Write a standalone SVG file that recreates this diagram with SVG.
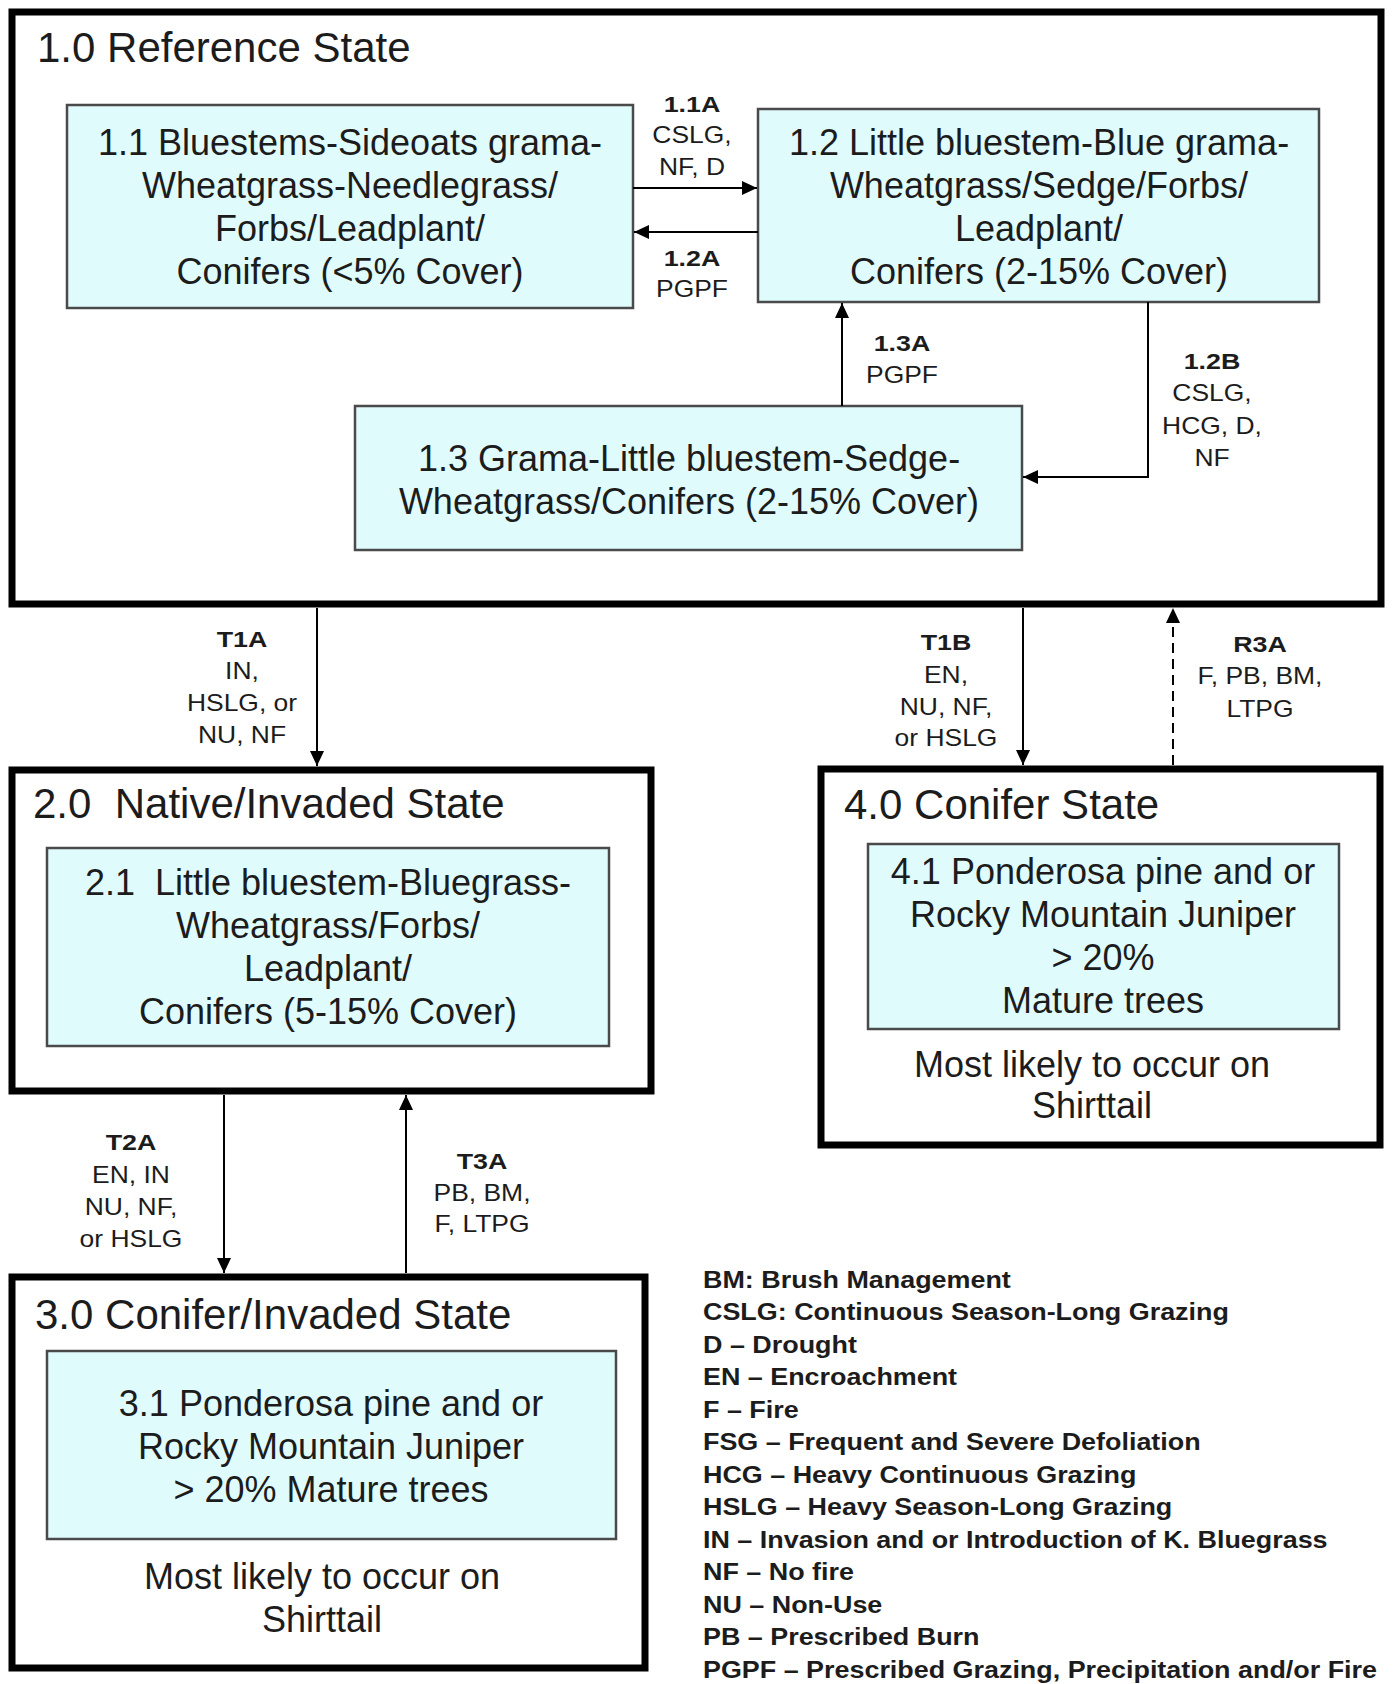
<svg xmlns="http://www.w3.org/2000/svg" width="1393" height="1684" viewBox="0 0 1393 1684">
<style>
text{font-family:"Liberation Sans",Arial,sans-serif;fill:#1c1c1c}
.state{fill:#fff;stroke:#000;stroke-width:7}
.comm{fill:#e0fbfc;stroke:#4a4a4a;stroke-width:2.5}
.title{font-size:42px}
.ct{font-size:36px;text-anchor:middle}
.lb{font-size:22px;font-weight:bold;text-anchor:middle}
.lr{font-size:23px;text-anchor:middle}
.leg{font-size:23px;font-weight:bold}
.con{fill:none;stroke:#000;stroke-width:2}
.dash{stroke-dasharray:10 6}
</style>
<defs>
<marker id="ah" markerUnits="userSpaceOnUse" markerWidth="16" markerHeight="14" refX="15" refY="7" orient="auto">
<path d="M0,0 L15,7 L0,14 z" fill="#000"/>
</marker>
</defs>
<rect width="1393" height="1684" fill="#fff"/>

<g id="state1">
<rect class="state" x="12" y="12" width="1369" height="592"/>
<text class="title" x="37" y="62">1.0 Reference State</text>
</g>
<g id="comm11">
<rect class="comm" x="67" y="105" width="566" height="203"/>
<text class="ct"><tspan x="350" y="155">1.1 Bluestems-Sideoats grama-</tspan><tspan x="350" y="198">Wheatgrass-Needlegrass/</tspan><tspan x="350" y="241">Forbs/Leadplant/</tspan><tspan x="350" y="284">Conifers (&lt;5% Cover)</tspan></text>
</g>
<g id="comm12">
<rect class="comm" x="758" y="109" width="561" height="193"/>
<text class="ct"><tspan x="1039" y="155">1.2 Little bluestem-Blue grama-</tspan><tspan x="1039" y="198">Wheatgrass/Sedge/Forbs/</tspan><tspan x="1039" y="241">Leadplant/</tspan><tspan x="1039" y="284">Conifers (2-15% Cover)</tspan></text>
</g>
<g id="comm13">
<rect class="comm" x="355" y="406" width="667" height="144"/>
<text class="ct"><tspan x="689" y="471">1.3 Grama-Little bluestem-Sedge-</tspan><tspan x="689" y="514">Wheatgrass/Conifers (2-15% Cover)</tspan></text>
</g>

<g id="state2">
<rect class="state" x="12" y="770" width="639" height="321"/>
<text class="title" x="33" y="818">2.0&#160; Native/Invaded State</text>
</g>
<g id="comm21">
<rect class="comm" x="47" y="848" width="562" height="198"/>
<text class="ct"><tspan x="328" y="895">2.1&#160; Little bluestem-Bluegrass-</tspan><tspan x="328" y="938">Wheatgrass/Forbs/</tspan><tspan x="328" y="981">Leadplant/</tspan><tspan x="328" y="1024">Conifers (5-15% Cover)</tspan></text>
</g>

<g id="state3">
<rect class="state" x="12" y="1277" width="633" height="391"/>
<text class="title" x="35" y="1329">3.0 Conifer/Invaded State</text>
<text class="ct"><tspan x="322" y="1589">Most likely to occur on</tspan><tspan x="322" y="1632">Shirttail</tspan></text>
</g>
<g id="comm31">
<rect class="comm" x="47" y="1351" width="569" height="188"/>
<text class="ct"><tspan x="331" y="1416">3.1 Ponderosa pine and or</tspan><tspan x="331" y="1459">Rocky Mountain Juniper</tspan><tspan x="331" y="1502">&gt; 20% Mature trees</tspan></text>
</g>

<g id="state4">
<rect class="state" x="821" y="769" width="559" height="376"/>
<text class="title" x="844" y="819">4.0 Conifer State</text>
<text class="ct"><tspan x="1092" y="1077">Most likely to occur on</tspan><tspan x="1092" y="1118">Shirttail</tspan></text>
</g>
<g id="comm41">
<rect class="comm" x="868" y="844" width="471" height="185"/>
<text class="ct"><tspan x="1103" y="884">4.1 Ponderosa pine and or</tspan><tspan x="1103" y="927">Rocky Mountain Juniper</tspan><tspan x="1103" y="970">&gt; 20%</tspan><tspan x="1103" y="1013">Mature trees</tspan></text>
</g>

<g id="connectors">
<path class="con" d="M633,188 H757" marker-end="url(#ah)"/>
<path class="con" d="M758,232 H634" marker-end="url(#ah)"/>
<path class="con" d="M842,406 V303" marker-end="url(#ah)"/>
<path class="con" d="M1148,302 V477 H1023" marker-end="url(#ah)"/>
<path class="con" d="M317,608 V766" marker-end="url(#ah)"/>
<path class="con" d="M1023,608 V765" marker-end="url(#ah)"/>
<path class="con dash" d="M1173,765 V608" marker-end="url(#ah)"/>
<path class="con" d="M224,1095 V1273" marker-end="url(#ah)"/>
<path class="con" d="M406,1273 V1095" marker-end="url(#ah)"/>
</g>

<g id="labels">
<g transform="translate(692 0)"><text class="lb" transform="scale(1.22 1)" y="112">1.1A</text><text class="lr" transform="scale(1.15 1)"><tspan x="0" y="143">CSLG,</tspan><tspan x="0" y="175">NF, D</tspan></text></g>
<g transform="translate(692 0)"><text class="lb" transform="scale(1.22 1)" y="266">1.2A</text><text class="lr" transform="scale(1.15 1)"><tspan x="0" y="297">PGPF</tspan></text></g>
<g transform="translate(902 0)"><text class="lb" transform="scale(1.22 1)" y="351">1.3A</text><text class="lr" transform="scale(1.15 1)"><tspan x="0" y="383">PGPF</tspan></text></g>
<g transform="translate(1212 0)"><text class="lb" transform="scale(1.22 1)" y="369">1.2B</text><text class="lr" transform="scale(1.15 1)"><tspan x="0" y="401">CSLG,</tspan><tspan x="0" y="434">HCG, D,</tspan><tspan x="0" y="466">NF</tspan></text></g>
<g transform="translate(242 0)"><text class="lb" transform="scale(1.22 1)" y="647">T1A</text><text class="lr" transform="scale(1.15 1)"><tspan x="0" y="679">IN,</tspan><tspan x="0" y="711">HSLG, or</tspan><tspan x="0" y="743">NU, NF</tspan></text></g>
<g transform="translate(946 0)"><text class="lb" transform="scale(1.22 1)" y="650">T1B</text><text class="lr" transform="scale(1.15 1)"><tspan x="0" y="683">EN,</tspan><tspan x="0" y="715">NU, NF,</tspan><tspan x="0" y="746">or HSLG</tspan></text></g>
<g transform="translate(1260 0)"><text class="lb" transform="scale(1.22 1)" y="652">R3A</text><text class="lr" transform="scale(1.15 1)"><tspan x="0" y="684">F, PB, BM,</tspan><tspan x="0" y="717">LTPG</tspan></text></g>
<g transform="translate(131 0)"><text class="lb" transform="scale(1.22 1)" y="1150">T2A</text><text class="lr" transform="scale(1.15 1)"><tspan x="0" y="1183">EN, IN</tspan><tspan x="0" y="1215">NU, NF,</tspan><tspan x="0" y="1247">or HSLG</tspan></text></g>
<g transform="translate(482 0)"><text class="lb" transform="scale(1.22 1)" y="1169">T3A</text><text class="lr" transform="scale(1.15 1)"><tspan x="0" y="1201">PB, BM,</tspan><tspan x="0" y="1232">F, LTPG</tspan></text></g>
</g>

<g id="legend" transform="translate(703 0) scale(1.17 1)">
<text class="leg"><tspan x="0" y="1288">BM: Brush Management</tspan><tspan x="0" y="1320.5">CSLG: Continuous Season-Long Grazing</tspan><tspan x="0" y="1353">D – Drought</tspan><tspan x="0" y="1385.5">EN – Encroachment</tspan><tspan x="0" y="1418">F – Fire</tspan><tspan x="0" y="1450.5">FSG – Frequent and Severe Defoliation</tspan><tspan x="0" y="1483">HCG – Heavy Continuous Grazing</tspan><tspan x="0" y="1515.5">HSLG – Heavy Season-Long Grazing</tspan><tspan x="0" y="1548">IN – Invasion and or Introduction of K. Bluegrass</tspan><tspan x="0" y="1580.5">NF – No fire</tspan><tspan x="0" y="1613">NU – Non-Use</tspan><tspan x="0" y="1645.5">PB – Prescribed Burn</tspan><tspan x="0" y="1678">PGPF – Prescribed Grazing, Precipitation and/or Fire</tspan></text>
</g>
</svg>
